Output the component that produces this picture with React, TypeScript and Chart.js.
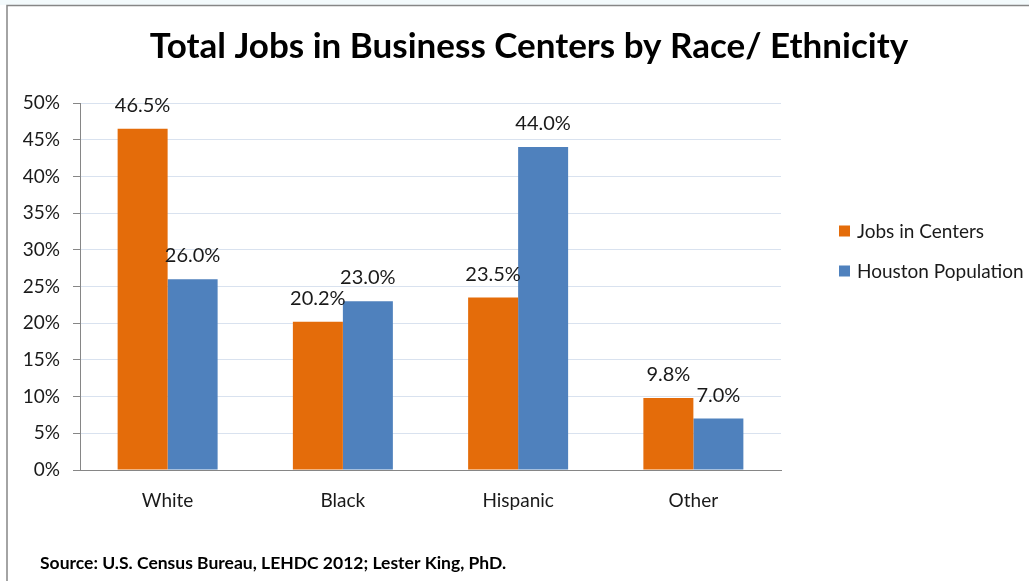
import React, { useEffect, useRef } from "react";
import { Chart, registerables } from "chart.js";

Chart.register(...registerables);

const TITLE = "Total Jobs in Business Centers by Race/ Ethnicity";
const SOURCE = "Source: U.S. Census Bureau, LEHDC 2012; Lester King, PhD.";
const CATEGORIES = ["White", "Black", "Hispanic", "Other"];
const SERIES_NAMES = ["Jobs in Centers", "Houston Population"];
const JOBS_IN_CENTERS = [46.5, 20.2, 23.5, 9.8];
const HOUSTON_POPULATION = [26.0, 23.0, 44.0, 7.0];
const Y_MIN = 0;
const Y_MAX = 50;
const Y_STEP = 5;

const ORANGE = "#E46C0A";
const BLUE = "#4F81BD";
const AXIS_GRAY = "#868686";
const GRID_BLUE = "#D9E2EF";
const TEXT = "#1a1a1a";
const FONT = "Lato, 'Open Sans', sans-serif";

const W = 1029;
const H = 581;

const decorPlugin = {
  id: "decor",
  beforeDraw(chart: any) {
    const ctx = chart.ctx;
    ctx.save();
    ctx.fillStyle = "#ffffff";
    ctx.fillRect(0, 0, W, H);
    ctx.fillStyle = "#f3fafc";
    ctx.fillRect(0, 0, W, 5);
    ctx.strokeStyle = AXIS_GRAY;
    ctx.lineWidth = 1.5;
    ctx.beginPath();
    ctx.moveTo(7, H + 2);
    ctx.lineTo(7, 5.5);
    ctx.lineTo(W + 2, 5.5);
    ctx.stroke();
    ctx.restore();
  },
  afterDraw(chart: any) {
    const ctx = chart.ctx;
    ctx.save();
    // title
    ctx.fillStyle = "#000";
    ctx.font = `bold 35px ${FONT}`;
    ctx.textAlign = "center";
    ctx.textBaseline = "alphabetic";
    ctx.fillText(TITLE, 529, 58);
    // source
    ctx.font = `bold 17.5px ${FONT}`;
    ctx.textAlign = "left";
    ctx.fillText(SOURCE, 40, 569);
    // data labels
    ctx.font = `20px ${FONT}`;
    ctx.fillStyle = TEXT;
    ctx.textAlign = "center";
    chart.data.datasets.forEach((ds: any, di: number) => {
      const meta = chart.getDatasetMeta(di);
      meta.data.forEach((bar: any, i: number) => {
        const v = ds.data[i];
        ctx.fillText(v.toFixed(1) + "%", bar.x, bar.y - 17);
      });
    });
    // legend
    const items = [
      { label: SERIES_NAMES[0], color: ORANGE, y: 231 },
      { label: SERIES_NAMES[1], color: BLUE, y: 271 },
    ];
    ctx.font = `19px ${FONT}`;
    ctx.textAlign = "left";
    ctx.textBaseline = "middle";
    items.forEach((it) => {
      ctx.fillStyle = it.color;
      ctx.fillRect(839, it.y - 5.5, 11, 11);
      ctx.fillStyle = TEXT;
      ctx.fillText(it.label, 857, it.y + 1);
    });
    ctx.restore();
  },
};

export default function App() {
  const ref = useRef<HTMLCanvasElement>(null);
  useEffect(() => {
    if (!ref.current) return;
    const chart = new Chart(ref.current, {
      type: "bar",
      data: {
        labels: CATEGORIES,
        datasets: [
          {
            label: SERIES_NAMES[0],
            data: JOBS_IN_CENTERS,
            backgroundColor: ORANGE,
            categoryPercentage: 0.5706,
            barPercentage: 1,
          },
          {
            label: SERIES_NAMES[1],
            data: HOUSTON_POPULATION,
            backgroundColor: BLUE,
            categoryPercentage: 0.5706,
            barPercentage: 1,
          },
        ],
      },
      options: {
        responsive: false,
        animation: false,
        devicePixelRatio: 1,
        layout: { padding: { left: 0, top: 103, right: 248, bottom: 0 } },
        plugins: {
          legend: { display: false },
          title: { display: false },
          tooltip: { enabled: false },
        },
        scales: {
          x: {
            afterFit: (s: any) => {
              s.height = 111;
            },
            grid: { display: false, drawTicks: false },
            border: { display: true, color: AXIS_GRAY, width: 1 },
            ticks: {
              color: TEXT,
              font: { family: FONT, size: 19 },
              padding: 19,
              maxRotation: 0,
            },
          },
          y: {
            min: Y_MIN,
            max: Y_MAX,
            afterFit: (s: any) => {
              s.width = 80;
            },
            grid: {
              color: (c: any) => (c.tick && c.tick.value === 0 ? AXIS_GRAY : GRID_BLUE),
              tickColor: AXIS_GRAY,
              tickLength: 7,
              lineWidth: 1,
            },
            border: { display: true, color: AXIS_GRAY, width: 1 },
            ticks: {
              stepSize: Y_STEP,
              color: TEXT,
              font: { family: FONT, size: 19 },
              padding: 13,
              callback: (v: any) => v + "%",
            },
          },
        },
      },
      plugins: [decorPlugin],
    });
    return () => chart.destroy();
  }, []);
  return (
    <div style={{ position: "fixed", left: 0, top: 0, width: W, height: H, background: "#fff" }}>
      <canvas ref={ref} width={W} height={H} style={{ display: "block" }} />
    </div>
  );
}
